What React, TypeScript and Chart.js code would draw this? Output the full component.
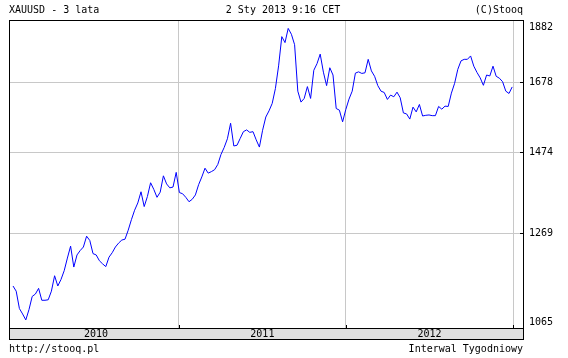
import React, { useEffect, useRef } from 'react';
import { Chart, registerables } from 'chart.js';

Chart.register(...registerables);

const TITLE = 'XAUUSD - 3 lata';
const STAMP = '2 Sty 2013 9:16 CET';
const COPYRIGHT = '(C)Stooq';
const FOOT_LEFT = 'http://stooq.pl';
const FOOT_RIGHT = 'Interwal Tygodniowy';

const FIRST_WEEK = Date.UTC(2010, 0, 3);
const YEARS = [2010, 2011, 2012];
const Y_TICKS = [1065, 1269, 1474, 1678, 1882];

const PRICES = [
  1151, 1140, 1104, 1093, 1081, 1102, 1129, 1134, 1146, 1121,
  1121, 1122, 1140, 1173, 1151, 1165, 1184, 1212, 1239, 1192,
  1219, 1229, 1237, 1262, 1252, 1222, 1219, 1206, 1199, 1193,
  1214, 1224, 1237, 1246, 1253, 1255, 1276, 1301, 1324, 1342,
  1370, 1333, 1358, 1393, 1376, 1356, 1369, 1411, 1390, 1380,
  1382, 1420, 1368, 1365, 1356, 1345, 1351, 1362, 1388, 1408,
  1431, 1418, 1422, 1427, 1441, 1468, 1487, 1511, 1555, 1491,
  1493, 1512, 1531, 1536, 1529, 1531, 1508, 1488, 1535, 1573,
  1591, 1613, 1658, 1729, 1825, 1805, 1853, 1833, 1798, 1650,
  1617, 1628, 1664, 1628, 1715, 1736, 1767, 1709, 1667, 1723,
  1700, 1598, 1593, 1559, 1595, 1626, 1650, 1706, 1710, 1705,
  1707, 1750, 1713, 1696, 1667, 1650, 1646, 1625, 1638, 1633,
  1647, 1630, 1585, 1582, 1567, 1602, 1588, 1610, 1576, 1578,
  1579, 1577, 1577, 1604, 1596, 1605, 1604, 1644, 1674, 1718,
  1745, 1750, 1750, 1761, 1728, 1708, 1691, 1668, 1700, 1697,
  1728, 1696, 1690, 1679, 1650, 1643, 1663,
];

const WEEK_MS = 7 * 24 * 3600 * 1000;
const weekIndexOfYearStart = (y: number) => (Date.UTC(y, 0, 1) - FIRST_WEEK) / WEEK_MS;
const YEAR_BOUNDS = [...YEARS.slice(1), YEARS[YEARS.length - 1] + 1].map(weekIndexOfYearStart);

const FONT = '10px "DejaVu Sans Mono", monospace';

const decorPlugin = {
  id: 'stooqDecor',
  afterDraw(chart: any) {
    const { ctx, chartArea } = chart;
    const xs = chart.scales.x;
    const ys = chart.scales.y;
    const L = Math.round(chartArea.left);
    const R = Math.round(chartArea.right);
    const T = Math.round(chartArea.top);
    const B = Math.round(chartArea.bottom);
    ctx.save();
    ctx.font = FONT;
    ctx.fillStyle = '#000';
    ctx.strokeStyle = '#000';
    ctx.lineWidth = 1;

    // bottom year bar
    const barBottom = B + 11;
    ctx.fillStyle = '#e0e0e0';
    ctx.fillRect(L, B, R - L, barBottom - B);
    ctx.strokeRect(L + 0.5, B + 0.5, R - L, barBottom - B);

    // plot border
    ctx.strokeRect(L + 0.5, T + 0.5, R - L, B - T);

    // tick marks inside plot
    ctx.beginPath();
    Y_TICKS.forEach((v) => {
      const py = Math.round(ys.getPixelForValue(v)) + 0.5;
      ctx.moveTo(R - 3, py);
      ctx.lineTo(R + 1, py);
    });
    YEAR_BOUNDS.forEach((b) => {
      const px = Math.round(xs.getPixelForValue(b)) + 0.5;
      if (px < R) {
        ctx.moveTo(px, B - 3);
        ctx.lineTo(px, B);
      }
    });
    ctx.stroke();

    // year labels
    ctx.fillStyle = '#000';
    ctx.textAlign = 'center';
    ctx.textBaseline = 'middle';
    YEARS.forEach((yr, i) => {
      const a = i === 0 ? xs.getPixelForValue(0) : xs.getPixelForValue(YEAR_BOUNDS[i - 1]);
      const b = Math.min(R, xs.getPixelForValue(YEAR_BOUNDS[i]));
      ctx.fillText(String(yr), (a + b) / 2, B + 6);
    });

    // y labels
    ctx.textAlign = 'left';
    Y_TICKS.forEach((v, i) => {
      let py = ys.getPixelForValue(v);
      if (i === Y_TICKS.length - 1) py += 7;
      if (i === 0) py -= 6;
      ctx.fillText(String(v), R + 6, py);
    });

    // header
    ctx.textAlign = 'left';
    ctx.fillText(TITLE, 9, 10);
    ctx.textAlign = 'center';
    ctx.fillText(STAMP, 283, 10);
    ctx.textAlign = 'right';
    ctx.fillText(COPYRIGHT, 523, 10);

    // footer
    ctx.textAlign = 'left';
    ctx.fillText(FOOT_LEFT, 9, 349);
    ctx.textAlign = 'right';
    ctx.fillText(FOOT_RIGHT, 523, 349);
    ctx.restore();
  },
};

export default function App() {
  const ref = useRef<HTMLCanvasElement | null>(null);

  useEffect(() => {
    if (!ref.current) return;
    const chart = new Chart(ref.current, {
      type: 'line',
      data: {
        datasets: [
          {
            data: PRICES.map((v, i) => ({ x: i, y: v })),
            borderColor: '#0000ff',
            borderWidth: 1,
            pointRadius: 0,
            tension: 0,
            fill: false,
          },
        ],
      },
      options: {
        animation: false,
        responsive: false,
        maintainAspectRatio: false,
        devicePixelRatio: 1,
        layout: { padding: { left: 9, top: 20, right: 45, bottom: 30 } },
        plugins: { legend: { display: false }, tooltip: { enabled: false }, title: { display: false } },
        scales: {
          x: {
            type: 'linear',
            min: -1.25,
            max: 159.375,
            afterBuildTicks: (s: any) => {
              s.ticks = YEAR_BOUNDS.map((v) => ({ value: v }));
            },
            grid: { color: '#c8c8c8', drawTicks: false },
            border: { display: false },
            ticks: { display: false },
          },
          y: {
            type: 'logarithmic',
            position: 'right',
            min: 1065,
            max: 1882,
            afterBuildTicks: (s: any) => {
              s.ticks = Y_TICKS.map((v) => ({ value: v }));
            },
            grid: { color: '#c8c8c8', drawTicks: false },
            border: { display: false },
            ticks: { display: false },
          },
        },
      },
      plugins: [decorPlugin],
    });
    return () => chart.destroy();
  }, []);

  return (
    <div style={{ position: 'fixed', left: 0, top: 0, width: 568, height: 358, background: '#fff' }}>
      <canvas ref={ref} width={568} height={358} style={{ display: 'block', width: 568, height: 358 }} />
    </div>
  );
}
